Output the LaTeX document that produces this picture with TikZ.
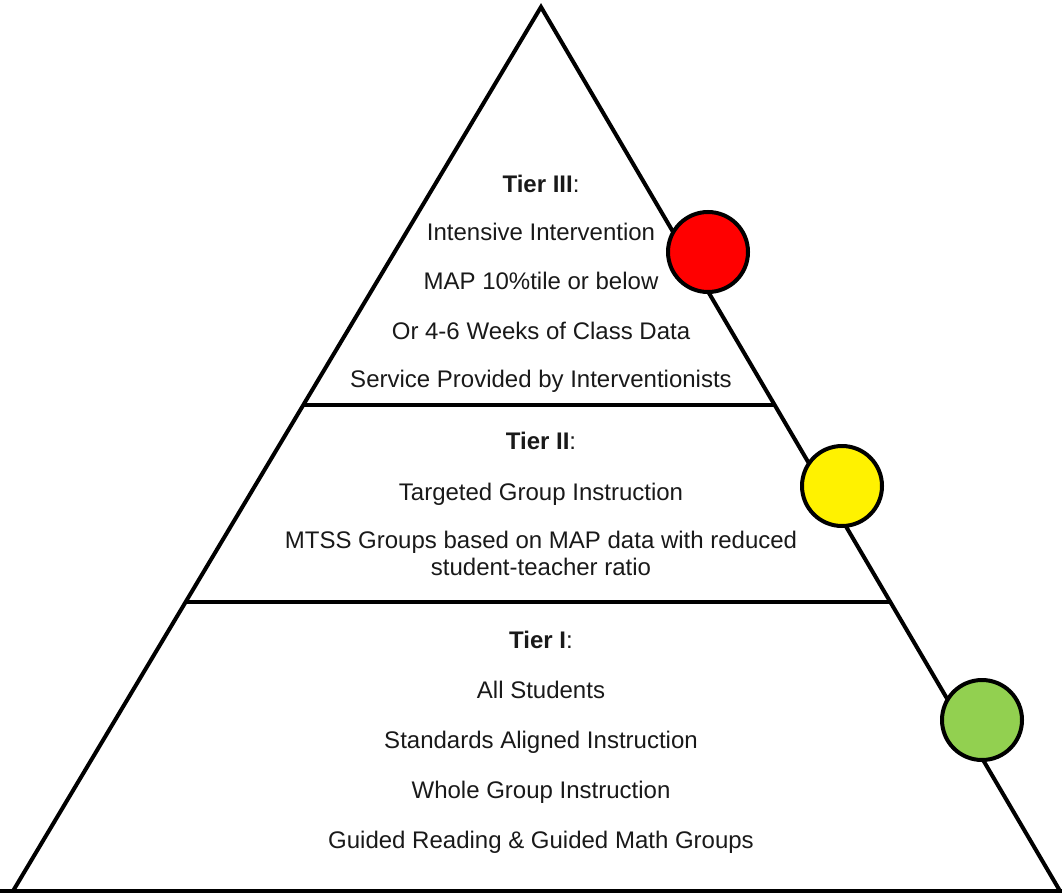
\documentclass[tikz,border=0pt]{standalone}
\usepackage{fontspec}
\setmainfont{Liberation Sans}
\begin{document}
\begin{tikzpicture}[x=1pt,y=-1pt,
  edge/.style={line width=4pt,black},
  txt/.style={anchor=base,inner sep=0pt,font=\fontsize{24}{28}\selectfont,text=black!90},
  dot/.style={circle,draw=black,line width=4pt,minimum size=80pt,inner sep=0pt}]
\useasboundingbox (0,0) rectangle (1062,896);
\coordinate (apex) at (541,7);
\coordinate (bl) at (13,891);
\coordinate (br) at (1060,891);
\coordinate (bl2) at (0,891);
\coordinate (br2) at (1062,891);
\coordinate (l1) at (304,405);
\coordinate (r1) at (774,405);
\coordinate (l2) at (186,602);
\coordinate (r2) at (890,602);
\draw[edge,line join=miter] (bl) -- (apex) -- (br);
\draw[edge] (bl2) -- (br2);
\draw[edge] (l1) -- (r1);
\draw[edge] (l2) -- (r2);
% Tier III
\node[txt] (t3) at (541,193) {\textbf{Tier III}:};
\node[txt] (t3a) at (541,240) {Intensive Intervention};
\node[txt] (t3b) at (541,289) {MAP 10\%tile or below};
\node[txt] (t3c) at (541,339) {Or 4-6 Weeks of Class Data};
\node[txt] (t3d) at (541,387) {Service Provided by Interventionists};
% Tier II
\node[txt] (t2) at (541,449) {\textbf{Tier II}:};
\node[txt] (t2a) at (541,500) {Targeted Group Instruction};
\node[txt] (t2b) at (541,548) {MTSS Groups based on MAP data with reduced};
\node[txt] (t2c) at (541,575) {student-teacher ratio};
% Tier I
\node[txt] (t1) at (541,648) {\textbf{Tier I}:};
\node[txt] (t1a) at (541,698) {All Students};
\node[txt] (t1b) at (541,748) {Standards Aligned Instruction};
\node[txt] (t1c) at (541,798) {Whole Group Instruction};
\node[txt] (t1d) at (541,848) {Guided Reading \& Guided Math Groups};
% circles
\definecolor{dotgreen}{RGB}{146,208,80}
\node[dot,fill=red] (c3) at (708,252) {};
\node[dot,fill=yellow] (c2) at (842,486) {};
\node[dot,fill=dotgreen] (c1) at (982,720) {};
\end{tikzpicture}
\end{document}
